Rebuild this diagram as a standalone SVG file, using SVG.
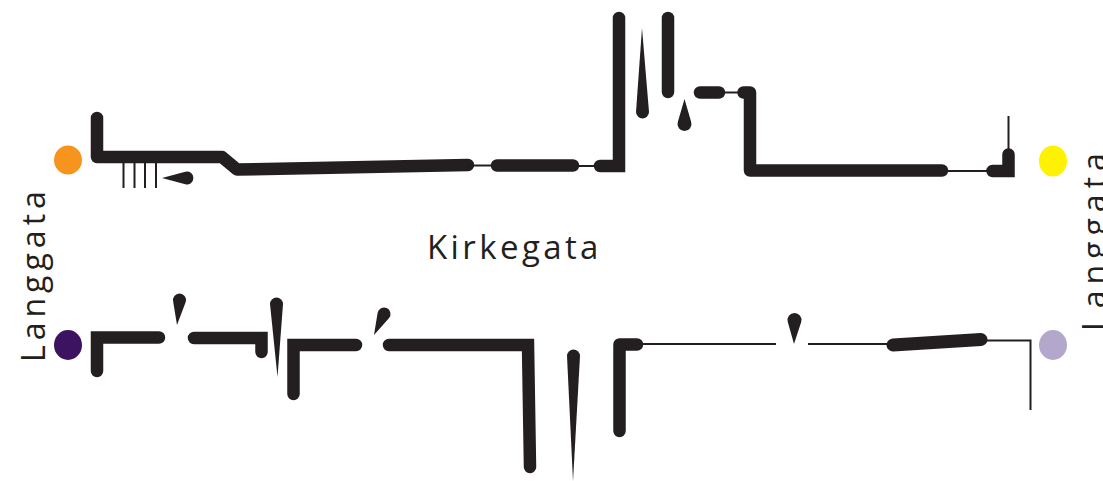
<svg xmlns="http://www.w3.org/2000/svg" width="1103" height="481" viewBox="0 0 1103 481">
<style>
.thick{fill:none;stroke:#231f20;stroke-width:12.5;stroke-linecap:round}
.rj{stroke-linejoin:round}
.mj{stroke-linejoin:miter}
.thin{fill:none;stroke:#231f20;stroke-width:2}
.drop{fill:#231f20;stroke:none}
.lbl{font-family:"Open Sans","Liberation Sans",sans-serif;fill:#231f20}
</style>
<rect width="1103" height="481" fill="#ffffff"/>
<g id="top-road">
<path class="thick rj" d="M97,118 L97,157 L222,157 L237,169.5 L468,165"/>
<path class="thin" d="M468,165.5 L497,165.5"/>
<path class="thick" d="M497,165.5 L573,165.5"/>
<path class="thin" d="M573,166 L600,166"/>
<path class="thick mj" d="M600,166 L619,166 L619,18"/>
<path class="thick" d="M668,18 L668,92"/>
<path class="thick" d="M700,92.5 L719,92.5"/>
<path class="thin" d="M719,92.5 L744,92.5"/>
<path class="thick rj" d="M743.5,92.5 L750,92.5 L750,170.5 L942,170.5"/>
<path class="thin" d="M942,171 L992,171"/>
<path class="thick mj" d="M992.5,171 L1008.5,171 L1008.5,154.5"/>
<path class="thin" d="M1008.5,116 L1008.5,152"/>
<path class="thin" d="M123.5,160 L123.5,188 M134.5,160 L134.5,188 M145,160 L145,188 M156,160 L156,188"/>
<path class="drop" d="M185.3,171.7 L162,178 L185.3,184.3 A6.5 6.5 0 1 0 185.3,171.7 Z"/>
<path class="drop" d="M636,112 L642,28 L649,112 A6.5 6.5 0 0 1 636,112 Z"/>
<path class="drop" d="M677.8,122 L684.5,99 L691.2,122 A7 7 0 1 1 677.8,122 Z"/>
</g>
<g id="bottom-road">
<path class="thick mj" d="M97,371 L97,337.5 L159,337.5"/>
<path class="drop" d="M185.8,301.7 L177,325 L173.2,301.7 A6.5 6.5 0 1 1 185.8,301.7 Z"/>
<path class="thick mj" d="M194,338 L261.5,338 L261.5,352"/>
<path class="drop" d="M270,304 A6.5 6.5 0 0 1 283,304 L277.5,377 Z"/>
<path class="thick mj" d="M293.5,394 L293.5,345 L356,345"/>
<path class="drop" d="M388.9,318.3 L374,335 L377.6,313 A6.5 6.5 0 1 1 388.9,318.3 Z"/>
<path class="thick mj" d="M389,345 L528,345 L530,467"/>
<path class="drop" d="M567,356 A6.5 6.5 0 0 1 580,356 L573,481 Z"/>
<path class="thick rj" d="M619.5,431 L619.5,344.5 L637,344.5"/>
<path class="thin" d="M637,344 L776,344 M808,344 L887,344"/>
<path class="drop" d="M801.2,322 L794,344 L787.8,322 A7 7 0 1 1 801.2,322 Z"/>
<path class="thick" d="M893,345 L981,339.5" style="stroke-width:13"/>
<path class="thin" d="M981,340.5 L1030.5,340.5 L1030.5,410"/>
</g>
<g id="endpoints">
<ellipse id="node-orange" cx="68" cy="160" rx="14" ry="14.5" fill="#f7941d"/>
<ellipse id="node-yellow" cx="1053" cy="161" rx="14" ry="15.5" fill="#fff200"/>
<ellipse id="node-purple" cx="68" cy="345" rx="14" ry="15" fill="#3c1361"/>
<ellipse id="node-lilac" cx="1053" cy="345" rx="14" ry="15" fill="#b3a8cb"/>
</g>
<g id="labels">
<text id="label-kirkegata" class="lbl" x="427" y="259" font-size="33" letter-spacing="3.4">Kirkegata</text>
<text id="label-langgata-left" class="lbl" transform="translate(45,362) rotate(-90)" font-size="32" letter-spacing="5">Langgata</text>
<text id="label-langgata-right" class="lbl" transform="translate(1106,331) rotate(-90)" font-size="32" letter-spacing="6">Langgata</text>
</g>
</svg>
